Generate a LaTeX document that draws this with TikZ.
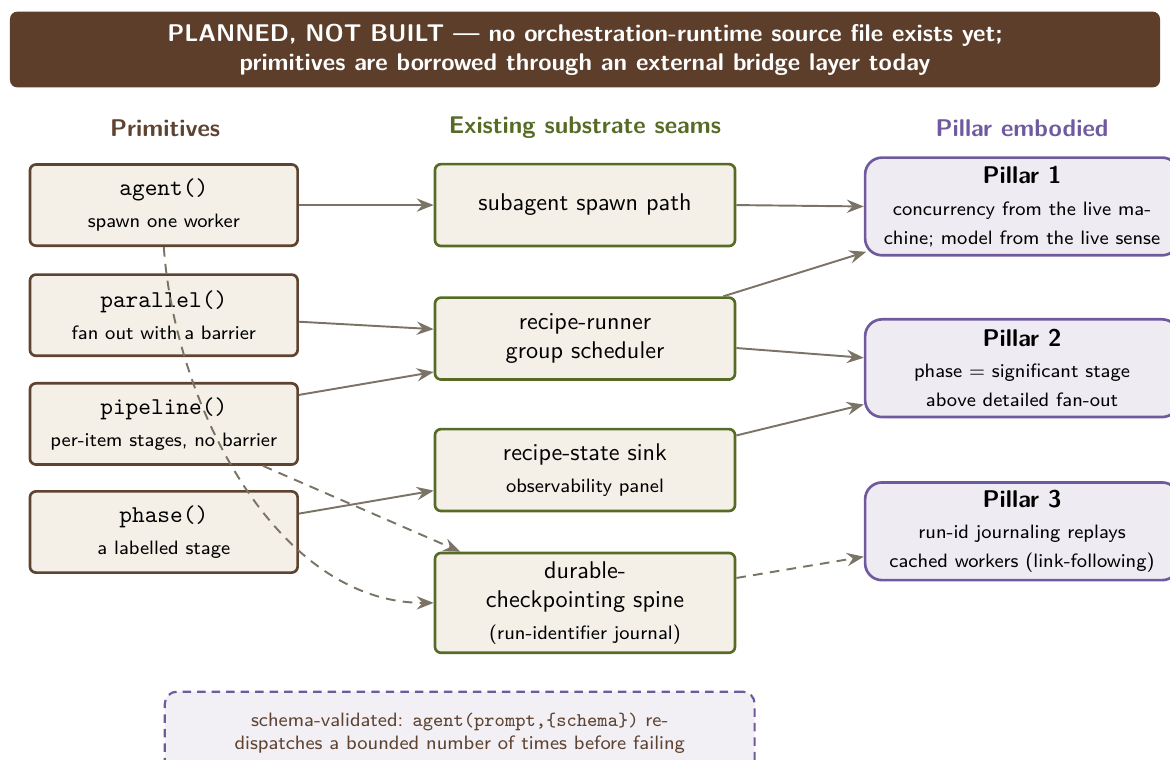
\documentclass[tikz,border=0pt]{standalone}
\usepackage{amssymb,amsmath}
\usepackage{tikz}
\usetikzlibrary{arrows.meta}

\begin{document}
\begin{tikzpicture}[font=\sffamily]

\definecolor{bannerbrown}{HTML}{5C3E2A}
\definecolor{primbrown}{HTML}{5E4331}
\definecolor{primfill}{HTML}{F4F0E8}
\definecolor{seamgreen}{HTML}{566B25}
\definecolor{pillarpurple}{HTML}{6F5A9E}
\definecolor{pillarfill}{HTML}{EEEBF3}
\definecolor{notefill}{HTML}{F2F0F5}
\definecolor{edgegrey}{HTML}{7B7466}

\tikzset{
  banner/.style={
    rectangle, rounded corners=3pt, fill=bannerbrown, text=white,
    font=\sffamily\bfseries, minimum width=16.71cm, minimum height=1.10cm,
    align=center
  },
  heading/.style={font=\sffamily\bfseries},
  box/.style={
    rectangle, line width=1.1pt, align=center, inner sep=2pt
  },
  primbox/.style={box, rounded corners=2.5pt, draw=primbrown, fill=primfill,
    minimum width=3.89cm, minimum height=1.18cm},
  seambox/.style={box, rounded corners=2.5pt, draw=seamgreen, fill=primfill,
    minimum width=4.36cm, minimum height=1.19cm},
  pillarbox/.style={box, rounded corners=7pt, draw=pillarpurple, fill=pillarfill,
    minimum width=4.56cm, minimum height=1.42cm},
  notebox/.style={
    rectangle, rounded corners=5pt, draw=pillarpurple, fill=notefill,
    line width=0.9pt, dash pattern=on 3.5pt off 2.5pt, text=primbrown,
    font=\sffamily\footnotesize, minimum width=8.57cm, minimum height=1.2cm,
    align=center
  },
  seamedge/.style={
    draw=edgegrey, line width=0.8pt, -{Stealth[length=7pt,width=5.5pt,inset=2.4pt]}
  },
  plannededge/.style={seamedge, dash pattern=on 4pt off 3pt}
}

\useasboundingbox (0,0) rectangle (17.0,11.04);

% Status banner.
\node[banner] (status) at (8.50,10.32)
  {PLANNED, NOT BUILT --- no orchestration-runtime source file exists yet;\\
   primitives are borrowed through an external bridge layer today};

% Column headings.
\node[heading, text=primbrown]    (hprim)   at (2.40,9.18)  {Primitives};
\node[heading, text=seamgreen]    (hseam)   at (8.50,9.18)  {Existing substrate seams};
\node[heading, text=pillarpurple] (hpillar) at (14.85,9.18) {Pillar embodied};

% Primitives.
\node[primbox] (agent)    at (2.38,8.06)
  {\texttt{agent()}\\[1pt]{\footnotesize spawn one worker}};
\node[primbox] (parallel) at (2.38,6.46)
  {\texttt{parallel()}\\[1pt]{\footnotesize fan out with a barrier}};
\node[primbox] (pipeline) at (2.38,4.88)
  {\texttt{pipeline()}\\[1pt]{\footnotesize per-item stages, no barrier}};
\node[primbox] (phase)    at (2.38,3.31)
  {\texttt{phase()}\\[1pt]{\footnotesize a labelled stage}};

% Substrate seams.
\node[seambox] (spawn)   at (8.50,8.06) {subagent spawn path};
\node[seambox] (runner)  at (8.50,6.12) {recipe-runner\\group scheduler};
\node[seambox] (sink)    at (8.50,4.21)
  {recipe-state sink\\[1pt]{\footnotesize observability panel}};
\node[seambox, minimum height=1.45cm] (spine) at (8.50,2.28)
  {durable-\\checkpointing spine\\[1pt]{\footnotesize (run-identifier journal)}};

% Pillars.
\node[pillarbox] (pillar1) at (14.85,8.04)
  {\textbf{Pillar 1}\\[1pt]{\footnotesize concurrency from the live ma-}\\
   {\footnotesize chine; model from the live sense}};
\node[pillarbox] (pillar2) at (14.85,5.69)
  {\textbf{Pillar 2}\\[1pt]{\footnotesize phase $=$ significant stage}\\
   {\footnotesize above detailed fan-out}};
\node[pillarbox] (pillar3) at (14.85,3.32)
  {\textbf{Pillar 3}\\[1pt]{\footnotesize run-id journaling replays}\\
   {\footnotesize cached workers (link-following)}};

% Schema note.
\node[notebox] (schema) at (6.68,0.39)
  {schema-validated: \texttt{agent(prompt,\{schema\})} re-\\
   dispatches a bounded number of times before failing};

% Existing wiring.
\foreach \from/\fromshift/\to/\toshift in {
  agent/0pt/spawn/0pt,
  parallel/-2.7pt/runner/3.9pt,
  pipeline/12pt/runner/-13.8pt,
  phase/7.6pt/sink/-8.5pt,
  spawn/0pt/pillar1/0pt,
  runner/-3.9pt/pillar2/4.3pt,
  sink/14.3pt/pillar2/-15pt}
  \draw[seamedge] ([yshift=\fromshift]\from.east) -- ([yshift=\toshift]\to.west);
\draw[seamedge] ([xshift=-5.4pt]runner.north east) --
  ([xshift=1pt,yshift=2pt]pillar1.south west);

% Planned wiring.
\draw[plannededge] ([yshift=10.3pt]spine.east) -- ([yshift=-10.5pt]pillar3.west);
\draw[plannededge] ([xshift=-14.9pt]pipeline.south east) --
  ([xshift=11pt]spine.north west);
\draw[plannededge] (agent.south) to[out=-86, in=180, looseness=0.9] (spine.west);

\end{tikzpicture}
\end{document}
